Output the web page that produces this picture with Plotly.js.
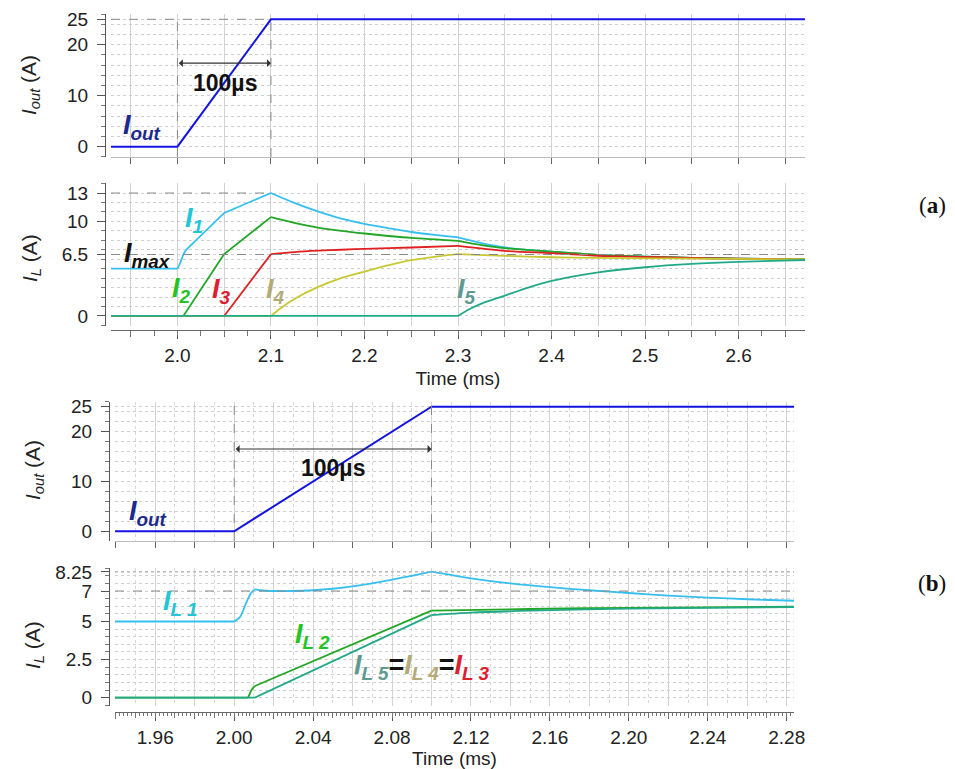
<!DOCTYPE html>
<html>
<head>
<meta charset="utf-8">
<script src="https://cdn.plot.ly/plotly-3.0.1.min.js"></script>
<style>html,body{margin:0;padding:0;background:#fff;}#chart{width:955px;height:769px;}</style>
</head>
<body>
<div id="chart"></div>
<script>
// ---------- DATA: panel (a) ----------
const aIoutT = [1.929, 2.0, 2.1, 2.671];
const aIoutV = [0, 0, 25, 25];

const aI1T = [1.929, 2.0, 2.003, 2.006, 2.0085, 2.05, 2.1, 2.125, 2.15, 2.175, 2.2, 2.225, 2.25, 2.275, 2.3, 2.325, 2.35, 2.375, 2.4, 2.45, 2.5, 2.55, 2.6, 2.671];
const aI1V = [5.0, 5.0, 5.6, 6.4, 6.9, 10.9, 13.0, 11.95, 11.05, 10.3, 9.75, 9.3, 8.88, 8.57, 8.3, 7.7, 7.24, 6.98, 6.81, 6.46, 6.28, 6.15, 6.07, 6.0];

const aI2T = [1.929, 2.0064, 2.05, 2.1, 2.125, 2.15, 2.175, 2.2, 2.25, 2.3, 2.325, 2.35, 2.4, 2.45, 2.5, 2.55, 2.6, 2.671];
const aI2V = [0, 0, 6.55, 10.45, 9.85, 9.35, 9.0, 8.72, 8.25, 7.94, 7.5, 7.17, 6.8, 6.46, 6.28, 6.15, 6.07, 6.0];

const aI3T = [1.929, 2.05, 2.1, 2.125, 2.15, 2.175, 2.2, 2.25, 2.3, 2.35, 2.4, 2.45, 2.5, 2.55, 2.6, 2.671];
const aI3V = [0, 0, 6.53, 6.75, 6.9, 7.0, 7.1, 7.24, 7.42, 6.89, 6.64, 6.36, 6.25, 6.13, 6.06, 6.0];

const aI4T = [1.929, 2.1, 2.11, 2.125, 2.15, 2.175, 2.2, 2.225, 2.25, 2.275, 2.3, 2.35, 2.4, 2.45, 2.5, 2.55, 2.6, 2.671];
const aI4V = [0, 0, 0.8, 1.8, 3.05, 4.0, 4.7, 5.35, 5.9, 6.25, 6.53, 6.36, 6.21, 6.14, 6.1, 6.06, 6.03, 6.0];

const aI5T = [1.929, 2.3, 2.31, 2.325, 2.35, 2.375, 2.4, 2.425, 2.45, 2.5, 2.55, 2.6, 2.671];
const aI5V = [0, 0, 0.6, 1.3, 2.15, 3.0, 3.7, 4.22, 4.62, 5.15, 5.5, 5.72, 5.92];

// ---------- DATA: panel (b) ----------
const bIoutT = [1.9396, 2.0, 2.1, 2.2837];
const bIoutV = [0, 0, 25, 25];

const bIL1T = [1.9396, 2.0, 2.003, 2.006, 2.0085, 2.0105, 2.013, 2.02, 2.03, 2.04, 2.05, 2.06, 2.07, 2.08, 2.09, 2.1, 2.12, 2.14, 2.16, 2.18, 2.2, 2.22, 2.24, 2.26, 2.2837];
const bIL1V = [5.0, 5.0, 5.3, 6.2, 6.85, 7.1, 7.05, 7.0, 7.0, 7.05, 7.15, 7.3, 7.5, 7.75, 8.0, 8.27, 7.83, 7.5, 7.25, 7.05, 6.87, 6.7, 6.57, 6.46, 6.36];

const bIL2T = [1.9396, 2.0071, 2.0088, 2.0105, 2.1, 2.15, 2.2, 2.2837];
const bIL2V = [0, 0, 0.5, 0.77, 5.71, 5.82, 5.9, 5.97];

const bIL345T = [1.9396, 2.0105, 2.1, 2.12, 2.15, 2.2, 2.2837];
const bIL345V = [0, 0, 5.42, 5.58, 5.71, 5.84, 5.95];

// ---------- TICKS ----------
const aXTicks  = [2.0, 2.1, 2.2, 2.3, 2.4, 2.5, 2.6];
const aXLabels = ['2.0', '2.1', '2.2', '2.3', '2.4', '2.5', '2.6'];
const bXTicks  = [1.96, 2.00, 2.04, 2.08, 2.12, 2.16, 2.20, 2.24, 2.28];
const bXLabels = ['1.96', '2.00', '2.04', '2.08', '2.12', '2.16', '2.20', '2.24', '2.28'];
const aTopYTicks = [0, 10, 20, 25];
const aBotYTicks = [0, 6.5, 10, 13];
const aBotYLabels = ['0', '6.5', '10', '13'];
const bTopYTicks = [0, 10, 20, 25];
const bBotYTicks = [0, 2.5, 5, 7, 8.25];
const bBotYLabels = ['0', '2.5', '5', '7', '8.25'];

// reference levels
const aImax = 6.5, aPeak = 13;
const bPeak = 8.25, bLevel = 7;

// ---------- STYLES ----------
const C = {
  blue: '#1414e0', navy: '#1c2a8c',
  cyan: '#35bfee', cyanLbl: '#22c5d5',
  green: '#22a626', greenLbl: '#22c322',
  red: '#e02020', redLbl: '#dd2030',
  olive: '#c8c832', oliveLbl: '#b3ab76',
  teal: '#22aa88', tealLbl: '#5e9a90'
};
const FONT = 'Liberation Sans, Arial, sans-serif';

// a series is drawn piecewise: straight ramps stay straight, smooth transients use a spline
function series(x, y, color, xa, ya, pieces, w) {
  return pieces.map(p => ({
    x: x.slice(p[0], p[1] + 1), y: y.slice(p[0], p[1] + 1),
    type: 'scatter', mode: 'lines', xaxis: xa, yaxis: ya, hoverinfo: 'skip',
    line: {color: color, width: w || 1.8, shape: p[2], smoothing: 0.8}
  }));
}
// invisible carrier so that the overlay tick / grid axes get drawn
function carrier(x, xa, ya) {
  return {x: x, y: [0, 0], type: 'scatter', mode: 'lines', xaxis: xa, yaxis: ya,
          line: {color: 'rgba(0,0,0,0)', width: 0}, opacity: 0, hoverinfo: 'skip'};
}

const W = 955, H = 769;
const px = v => v / W;
const py = v => 1 - v / H;

const xRangeA = [aIoutT[0], aIoutT[3]], xRangeB = [bIoutT[0], bIoutT[3]];
const L = 'linear', S = 'spline';

const traces = [].concat(
  [carrier(xRangeA, 'x5', 'y2'), carrier(xRangeB, 'x6', 'y4'),
   carrier(xRangeB, 'x7', 'y4'), carrier(xRangeB, 'x8', 'y3')],
  series(aIoutT, aIoutV, C.blue, 'x', 'y', [[0, 3, L]], 2),
  series(aI1T, aI1V, C.cyan, 'x2', 'y2', [[0, 1, L], [1, 4, S], [4, 6, L], [6, 14, S], [14, 23, S]]),
  series(aI2T, aI2V, C.green, 'x2', 'y2', [[0, 3, L], [3, 9, S], [9, 17, S]]),
  series(aI3T, aI3V, C.red, 'x2', 'y2', [[0, 2, L], [2, 8, S], [8, 15, S]]),
  series(aI4T, aI4V, C.olive, 'x2', 'y2', [[0, 1, L], [1, 10, S], [10, 17, S]]),
  series(aI5T, aI5V, C.teal, 'x2', 'y2', [[0, 1, L], [1, 12, S]]),
  series(bIoutT, bIoutV, C.blue, 'x3', 'y3', [[0, 3, L]], 2),
  series(bIL1T, bIL1V, C.cyan, 'x4', 'y4', [[0, 1, L], [1, 15, S], [15, 24, S]]),
  series(bIL2T, bIL2V, C.green, 'x4', 'y4', [[0, 1, L], [1, 3, S], [3, 4, L], [4, 7, S]]),
  series(bIL345T, bIL345V, C.teal, 'x4', 'y4', [[0, 2, L], [2, 6, S]])
);

const tickFont = {family: FONT, size: 19, color: '#222'};
const gridX = '#d2d2d2';
const gridY = '#cfcfcf';

function xAxis(domain, range, ticks, labels, gridDt, opts) {
  return Object.assign({
    domain: domain, range: range, tickmode: 'array', tickvals: ticks, ticktext: labels,
    showgrid: true, gridcolor: gridX, gridwidth: 1, zeroline: false,
    tickfont: tickFont, ticks: 'outside', ticklen: 8, tickcolor: '#555',
    showline: true, linecolor: '#666', linewidth: 1,
    minor: {dtick: gridDt, tick0: ticks[0], ticks: 'outside', ticklen: 6, tickcolor: '#666',
            showgrid: true, gridcolor: gridX}
  }, opts || {});
}
function overlayAxis(over, anchorY, domain, range, dt, pos, len, grid) {
  const ax = {overlaying: over, domain: domain, range: range,
          showticklabels: false, zeroline: false, showline: false,
          tickmode: 'linear', tick0: 2.0, dtick: dt,
          ticks: len ? 'outside' : '', ticklen: len || 0, tickcolor: '#777',
          showgrid: !!grid, gridcolor: '#d6d6d6', griddash: 'dot'};
  if (pos === null) { ax.anchor = anchorY; } else { ax.anchor = 'free'; ax.position = pos; }
  return ax;
}
function yAxis(domain, range, ticks, labels, minorDt, pos) {
  return {
    domain: domain, range: range, anchor: 'free', position: pos,
    tickmode: 'array', tickvals: ticks, ticktext: labels,
    showgrid: true, gridcolor: gridY, griddash: 'dot', zeroline: false,
    tickfont: tickFont, ticks: 'outside', ticklen: 8, tickcolor: '#555', ticklabelstandoff: 5,
    showline: true, linecolor: '#555', linewidth: 1,
    minor: {dtick: minorDt, ticks: 'outside', ticklen: 4, tickcolor: '#777',
            showgrid: true, gridcolor: gridY, griddash: 'dot'}
  };
}

const xDomA = [px(111), px(805)], xDomB = [px(115), px(794)];
const titleFont = {family: FONT, size: 19, color: '#222'};

const layout = {
  width: W, height: H, margin: {l: 0, r: 0, t: 0, b: 0},
  paper_bgcolor: '#fff', plot_bgcolor: '#fff', showlegend: false,
  font: {family: FONT, color: '#222'},
  xaxis: xAxis(xDomA, xRangeA, aXTicks, aXLabels, 0.05,
               {anchor: 'y', showticklabels: false, ticks: '', linecolor: '#bbb'}),
  yaxis: yAxis([py(157), py(14)], [-2.02, 26.04], aTopYTicks, aTopYTicks.map(String), 2, px(105)),
  xaxis2: xAxis(xDomA, xRangeA, aXTicks, aXLabels, 0.05,
               {anchor: 'free', position: py(330), title: {text: 'Time (ms)', font: titleFont, standoff: 6}}),
  yaxis2: yAxis([py(326), py(183)], [-1.06, 14.06], aBotYTicks, aBotYLabels, 1, px(105)),
  xaxis3: xAxis(xDomB, xRangeB, bXTicks, bXLabels, 0.02,
               {anchor: 'y3', showticklabels: false, ticks: '', linecolor: '#bbb'}),
  yaxis3: yAxis([py(541), py(401.7)], [-1.95, 26.0], bTopYTicks, bTopYTicks.map(String), 2, px(109)),
  xaxis4: xAxis(xDomB, xRangeB, bXTicks, bXLabels, 0.02,
               {anchor: 'free', position: py(711.7), title: {text: 'Time (ms)', font: titleFont, standoff: 6}}),
  yaxis4: yAxis([py(706), py(567.7)], [-0.545, 8.53], bBotYTicks, bBotYLabels, 0.5, px(109)),
  xaxis5: overlayAxis('x2', 'y2', xDomA, xRangeA, 0.025, py(330), 5, false),
  xaxis6: overlayAxis('x4', 'y4', xDomB, xRangeB, 0.002, py(711.7), 3, false),
  xaxis7: overlayAxis('x4', 'y4', xDomB, xRangeB, 0.01, py(711.7), 5, true),
  xaxis8: overlayAxis('x3', 'y3', xDomB, xRangeB, 0.01, null, 0, true),
  shapes: [],
  annotations: []
};

const dash = {color: '#8a8a8a', width: 1, dash: 'dash'};
// panel (a) top: ramp markers
[aIoutT[1], aIoutT[2]].forEach(t => layout.shapes.push({type: 'line', xref: 'x', yref: 'y domain', x0: t, x1: t, y0: 0, y1: 1, line: dash}));
layout.shapes.push({type: 'line', xref: 'x', yref: 'y', x0: aIoutT[0], x1: aIoutT[2], y0: aIoutV[2], y1: aIoutV[2], line: dash});
// panel (a) bottom
layout.shapes.push({type: 'line', xref: 'x2', yref: 'y2', x0: aIoutT[0], x1: aIoutT[2], y0: aPeak, y1: aPeak, line: dash});
layout.shapes.push({type: 'line', xref: 'x2 domain', yref: 'y2', x0: 0, x1: 1, y0: aImax, y1: aImax, line: dash});
// panel (b) top
[bIoutT[1], bIoutT[2]].forEach(t => layout.shapes.push({type: 'line', xref: 'x3', yref: 'y3 domain', x0: t, x1: t, y0: 0, y1: 1, line: dash}));
// panel (b) bottom
layout.shapes.push({type: 'line', xref: 'x4 domain', yref: 'y4', x0: 0, x1: 1, y0: bPeak, y1: bPeak, line: {color: '#aaa', width: 1, dash: 'dot'}});
layout.shapes.push({type: 'line', xref: 'x4 domain', yref: 'y4', x0: 0, x1: 1, y0: bLevel, y1: bLevel, line: dash});

function lbl(text, x, y, xr, yr, color, size, extra) {
  return Object.assign({text: text, x: x, y: y, xref: xr, yref: yr, showarrow: false,
    xanchor: 'center', yanchor: 'middle',
    font: {family: FONT, size: size || 27, color: color}}, extra || {});
}
const bi = s => '<b><i>' + s + '</i></b>';
const sub = s => '<sub>' + bi(s) + '</sub>';

const A = layout.annotations;
// y-axis titles
A.push(lbl('<i>I</i><sub><i>out</i></sub> (A)', px(30), py(85), 'paper', 'paper', '#222', 21, {textangle: -90}));
A.push(lbl('<i>I</i><sub><i>L</i></sub> (A)', px(31), py(258), 'paper', 'paper', '#222', 21, {textangle: -90}));
A.push(lbl('<i>I</i><sub><i>out</i></sub> (A)', px(34), py(470), 'paper', 'paper', '#222', 21, {textangle: -90}));
A.push(lbl('<i>I</i><sub><i>L</i></sub> (A)', px(34), py(645), 'paper', 'paper', '#222', 21, {textangle: -90}));
// panel labels
const serif = {family: 'Liberation Serif, DejaVu Serif, serif', size: 23, color: '#111'};
A.push(lbl('(<b>a</b>)', px(932), py(205), 'paper', 'paper', '#111', 23, {font: serif}));
A.push(lbl('(<b>b</b>)', px(932), py(583), 'paper', 'paper', '#111', 23, {font: serif}));

// panel (a) annotations
A.push(lbl(bi('I') + sub('out'), 1.9623, 3.9, 'x', 'y', C.navy));
A.push(lbl('<b>100µs</b>', 2.051, 12.5, 'x', 'y', '#111', 23));
A.push({x: aIoutT[2], y: 16.4, ax: aIoutT[1], ay: 16.4, xref: 'x', yref: 'y', axref: 'x', ayref: 'y',
        text: '', showarrow: true, arrowhead: 1, arrowside: 'end+start', arrowsize: 1.2, arrowwidth: 1.1,
        arrowcolor: '#333', standoff: 0, startstandoff: 0});
A.push(lbl(bi('I') + sub('1'), 2.018, 10.2, 'x2', 'y2', C.cyanLbl));
A.push(lbl(bi('I') + sub('max'), 1.9676, 6.45, 'x2', 'y2', '#111'));
A.push(lbl(bi('I') + sub('2'), 2.004, 2.75, 'x2', 'y2', C.greenLbl));
A.push(lbl(bi('I') + sub('3'), 2.0467, 2.65, 'x2', 'y2', C.redLbl));
A.push(lbl(bi('I') + sub('4'), 2.1045, 2.65, 'x2', 'y2', C.oliveLbl));
A.push(lbl(bi('I') + sub('5'), 2.309, 2.65, 'x2', 'y2', C.tealLbl));

// panel (b) annotations
A.push(lbl(bi('I') + sub('out'), 1.9563, 3.7, 'x3', 'y3', C.navy));
A.push(lbl('<b>100µs</b>', 2.05, 12.7, 'x3', 'y3', '#111', 23));
A.push({x: bIoutT[2], y: 16.5, ax: bIoutT[1], ay: 16.5, xref: 'x3', yref: 'y3', axref: 'x3', ayref: 'y3',
        text: '', showarrow: true, arrowhead: 1, arrowside: 'end+start', arrowsize: 1.2, arrowwidth: 1.1,
        arrowcolor: '#333', standoff: 0, startstandoff: 0});
A.push(lbl(bi('I') + sub('L 1'), 1.9725, 6.2, 'x4', 'y4', C.cyanLbl));
A.push(lbl(bi('I') + sub('L 2'), 2.0399, 4.05, 'x4', 'y4', C.greenLbl));
const sp = (c, s) => '<span style="color:' + c + '">' + s + '</span>';
A.push(lbl(sp(C.tealLbl, bi('I') + sub('L 5')) + '<b>=</b>' + sp(C.oliveLbl, bi('I') + sub('L 4')) + '<b>=</b>' + sp(C.redLbl, bi('I') + sub('L 3')),
           2.0951, 2.0, 'x4', 'y4', '#111'));

Plotly.newPlot('chart', traces, layout, {staticPlot: true, displayModeBar: false});
</script>
</body>
</html>
